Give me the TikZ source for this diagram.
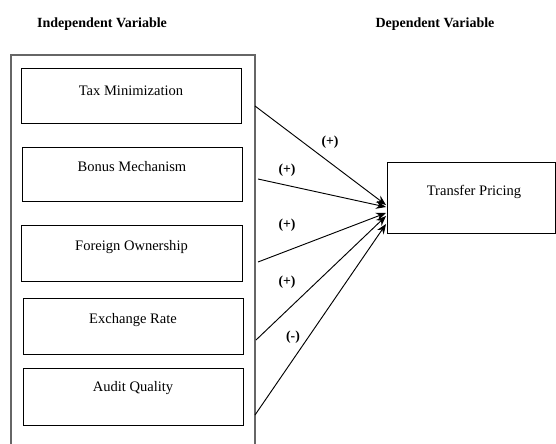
\documentclass[tikz,border=0pt]{standalone}
\usepackage{fontspec}
\setmainfont{Liberation Serif}
\usetikzlibrary{arrows.meta,fit}
\begin{document}
\begin{tikzpicture}[x=0.75pt,y=-0.75pt,
  box/.style={draw=black,line width=0.75pt,inner sep=0pt},
  outerframe/.style={draw=black!60,line width=1.3pt},
  txt/.style={font=\fontsize{10.9}{13}\selectfont,inner sep=0pt},
  ttl/.style={font=\fontsize{10.5}{12}\selectfont\bfseries,inner sep=0pt},
  sgn/.style={font=\fontsize{10.3}{12}\selectfont\bfseries,inner sep=0pt},
  arr/.style={draw=black,line width=0.7pt,-{Stealth[length=7.5pt,width=6pt]}}]
\useasboundingbox (0,0) rectangle (556,443);
% titles
\node[ttl] (ti) at (102,24) {Independent Variable};
\node[ttl] (td) at (435,24) {Dependent Variable};
% outer frame (open at bottom)
\draw[outerframe] (11,445) -- (11,55) -- (255,55) -- (255,445);
% independent boxes
\node[box,fit={(21,68)(241,123)}] (tax) {};
\node[txt] (taxt) at (131,91) {Tax Minimization};
\node[box,fit={(22,147)(242,201)}] (bon) {};
\node[txt] (bont) at (132,167) {Bonus Mechanism};
\node[box,fit={(21,225)(242,281)}] (for) {};
\node[txt] (fort) at (131.5,247) {Foreign Ownership};
\node[box,fit={(23,298)(243,354)}] (exc) {};
\node[txt] (exct) at (133,320) {Exchange Rate};
\node[box,fit={(23,368)(243,425)}] (aud) {};
\node[txt] (audt) at (133,388) {Audit Quality};
% dependent box
\node[box,fit={(387,162)(555,233)}] (tp) {};
\node[txt] (tpt) at (474,192) {Transfer Pricing};
% connector ends
\coordinate (s1) at (255,106);
\coordinate (s2) at (258,179);
\coordinate (s3) at (258,262);
\coordinate (s4) at (256,340);
\coordinate (s5) at (255,415);
\coordinate (e1) at (386,205);
\coordinate (e2) at (386,207);
\coordinate (e3) at (386,213);
\coordinate (e4) at (386,216);
\coordinate (e5) at (386,224);
\draw[arr] (s1) -- (e1);
\draw[arr] (s2) -- (e2);
\draw[arr] (s3) -- (e3);
\draw[arr] (s4) -- (e4);
\draw[arr] (s5) -- (e5);
% signs
\node[sgn] (l1) at (330,142) {(+)};
\node[sgn] (l2) at (287,170) {(+)};
\node[sgn] (l3) at (287,225) {(+)};
\node[sgn] (l4) at (287,282) {(+)};
\node[sgn] (l5) at (293,337) {(-)};
\end{tikzpicture}
\end{document}
